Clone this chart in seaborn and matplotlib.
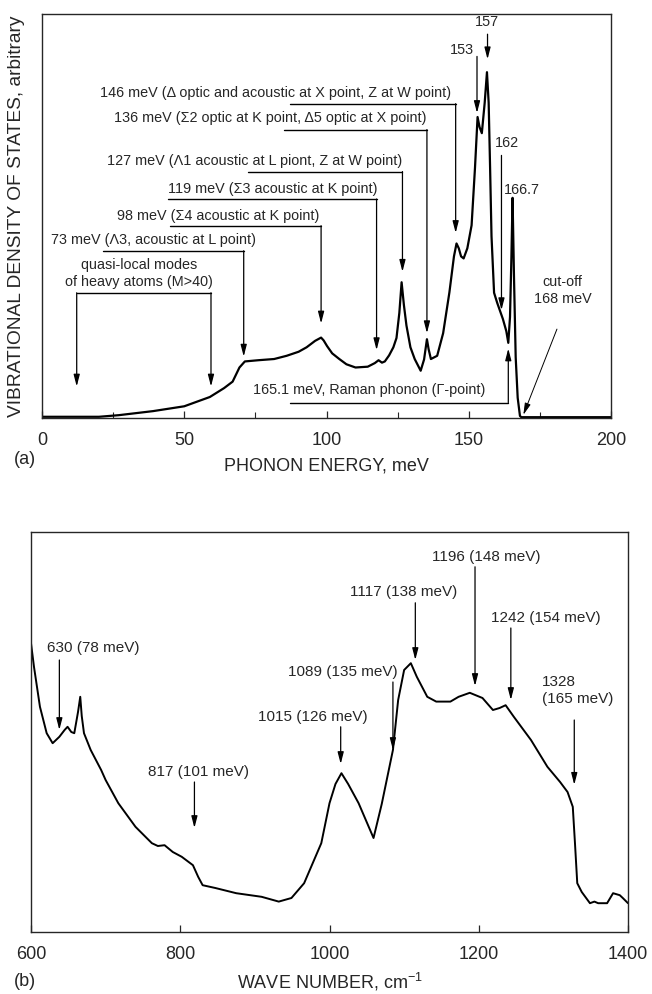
# %%
import matplotlib.pyplot as plt
import numpy as np
import pandas as pd
import seaborn as sns
from matplotlib.ticker import MultipleLocator

# %% panel (a): vibrational density of states (arbitrary units, 0-100 = axis height)
energy_mev = [0, 20, 27, 39, 50, 59, 64, 67, 69.4, 71.3, 76, 81.6, 86, 90.2, 93, 96,
              98.1, 99, 100.2, 102, 104.5, 107, 110.2, 114.5, 117, 118.3, 119.5, 120.5,
              122, 123.5, 124.6, 125.6, 126.4, 127.2, 128.1, 129.5, 131, 133.1, 134.3,
              135.3, 135.9, 136.7, 138.9, 141, 143.2, 144.8, 145.7, 146.5, 147.3, 148.2,
              149.5, 151, 152.2, 153.1, 153.8, 154.6, 155.6, 156.4, 157.0, 157.5, 158,
              158.9, 160, 161, 162, 163.2, 163.9, 164.5, 165, 165.4, 165.9, 166.5, 167.2,
              168, 168.5, 170, 180, 190, 200]
vdos = [0.3, 0.3, 0.7, 1.7, 2.9, 5.2, 7.4, 9.0, 12.5, 14.0, 14.3, 14.6, 15.4, 16.4, 17.5,
        19.1, 19.9, 19.2, 17.8, 16.0, 14.6, 13.3, 12.5, 12.7, 13.6, 14.3, 13.7, 14.0, 15.5,
        17.5, 19.8, 26.0, 33.6, 28.0, 22.9, 17.5, 14.6, 11.7, 14.5, 19.5, 17.0, 14.6, 15.4,
        21.0, 31.1, 40.0, 43.2, 42.0, 40.0, 39.5, 42.0, 47.7, 62.0, 74.5, 72.0, 70.5, 78.0,
        85.6, 78.0, 62.0, 45.0, 31.0, 28.5, 26.5, 24.5, 21.5, 18.6, 25.0, 40.0, 54.5, 35.0,
        15.0, 5.0, 0.5, 0.2, 0.2, 0.2, 0.2, 0.2]

# labels with leader lines: text, text right end, text y, line start x, peak x, line y, arrow tip y
a_labels = ["146 meV (\u0394 optic and acoustic at X point, Z at W point)",
            "136 meV (\u03a32 optic at K point, \u03945 optic at X point)",
            "127 meV (\u039b1 acoustic at L piont, Z at W point)",
            "119 meV (\u03a33 acoustic at K point)",
            "98 meV (\u03a34 acoustic at K point)",
            "73 meV (\u039b3, acoustic at L point)"]
a_text_right = [143.9, 135.3, 126.7, 118.1, 97.4, 75.2]
a_text_y = [80.5, 74.3, 63.7, 56.8, 50.1, 44.0]
a_line_x0 = [87.3, 85.2, 72.3, 44.4, 45.1, 21.5]
a_peak_x = [145.4, 135.3, 126.7, 117.6, 98.1, 70.9]
a_line_y = [77.8, 71.4, 61.0, 54.2, 47.6, 41.4]
a_tip_y = [45.8, 21.0, 36.2, 16.8, 23.4, 15.2]

# panel (b): spectrum vs wave number (arbitrary units)
wavenumber = [600, 604, 612, 621, 629, 638, 645, 649, 654, 658, 663, 666, 668, 671, 680,
              694, 700, 717, 740, 755, 762, 770, 779, 790, 802, 817, 824, 830, 847, 875,
              909, 932, 949, 966, 989, 1000, 1008, 1016, 1025, 1039, 1059, 1070, 1085,
              1092, 1100, 1109, 1117, 1131, 1143, 1162, 1173, 1188, 1205, 1219, 1228,
              1236, 1247, 1270, 1292, 1309, 1319, 1326, 1329, 1332, 1338, 1349, 1355,
              1360, 1372, 1380, 1389, 1393, 1400]
signal = [72.2, 66.3, 56.3, 49.7, 47.2, 48.8, 50.5, 51.3, 50.0, 49.7, 55.0, 58.8, 54.0,
          49.7, 45.5, 40.5, 38.0, 32.2, 26.3, 23.5, 22.2, 21.5, 21.7, 20.0, 18.8, 16.7,
          13.8, 11.7, 11.0, 9.7, 8.8, 7.6, 8.5, 12.2, 22.2, 32.2, 37.0, 39.7, 37.0, 32.2,
          23.5, 32.0, 45.5, 58.0, 65.5, 67.2, 63.8, 58.8, 57.6, 57.6, 58.8, 59.8, 58.5,
          55.5, 56.0, 56.7, 53.8, 48.0, 41.3, 37.5, 35.0, 31.3, 22.0, 12.2, 10.0, 7.2,
          7.6, 7.2, 7.2, 9.7, 9.2, 8.5, 7.2]

b_labels = ["630 (78 meV)", "817 (101 meV)", "1015 (126 meV)", "1089 (135 meV)",
            "1117 (138 meV)", "1196 (148 meV)", "1242 (154 meV)", "1328\n(165 meV)"]
b_text_x = [683, 824, 978, 1018, 1099, 1210, 1290, 1285]
b_text_y = [71.0, 40.0, 53.8, 65.0, 85.0, 93.8, 78.5, 60.3]
b_arrow_x = [638, 819, 1015, 1085, 1115, 1195, 1243, 1328]
b_arrow_top = [68.0, 37.5, 51.3, 62.5, 82.3, 91.3, 76.0, 53.0]
b_arrow_tip = [50.5, 26.0, 42.0, 45.5, 68.0, 61.5, 58.0, 36.8]

# %%
sns.set_style("ticks")
plt.rcParams["font.family"] = ["Liberation Sans", "DejaVu Sans"]
plt.rcParams["xtick.direction"] = "in"
plt.rcParams["ytick.direction"] = "in"

fig = plt.figure(figsize=(6.52, 9.94), dpi=100)
W, H = 652, 994
ax1 = fig.add_axes([42 / W, 1 - 418 / H, (611 - 42) / W, (418 - 14) / H])
ax2 = fig.add_axes([31 / W, 1 - 932 / H, (628 - 31) / W, (932 - 532) / H])

arrow = dict(arrowstyle="-|>,head_length=0.7,head_width=0.18", color="k", lw=0.9,
             shrinkA=0, shrinkB=0)
fs = 10.4

# %% panel (a)
df_a = pd.DataFrame({"energy": energy_mev, "vdos": vdos})
sns.lineplot(data=df_a, x="energy", y="vdos", ax=ax1, color="k", lw=1.6)
ax1.set_xlim(0, 200)
ax1.set_ylim(0, 100)
ax1.set_xticks([0, 50, 100, 150, 200])
ax1.xaxis.set_minor_locator(MultipleLocator(25))
ax1.set_yticks([])
ax1.tick_params(axis="x", which="major", labelsize=13, length=5, width=0.9, pad=10)
ax1.tick_params(axis="x", which="minor", length=4, width=0.8)
ax1.set_xlabel("PHONON ENERGY, meV", fontsize=13, labelpad=6)
ax1.set_ylabel("VIBRATIONAL DENSITY OF STATES, arbitrary", fontsize=13.8, labelpad=12)
fig.text(14 / W, 1 - 460 / H, "(a)", fontsize=13, va="center")

for lab, tx, ty, x0, xp, ly, tip in zip(a_labels, a_text_right, a_text_y, a_line_x0,
                                         a_peak_x, a_line_y, a_tip_y):
    ax1.text(tx, ty, lab, fontsize=fs, ha="right", va="center")
    ax1.plot([x0, xp], [ly, ly], color="k", lw=1.0)
    ax1.annotate("", xy=(xp, tip), xytext=(xp, ly), arrowprops=arrow)

# quasi-local modes bracket
ax1.text(34, 35.8, "quasi-local modes\nof heavy atoms (M>40)", fontsize=fs,
         ha="center", va="center", linespacing=1.25)
ax1.plot([12.2, 59.4], [31.0, 31.0], color="k", lw=1.0)
for xq in [12.2, 59.4]:
    ax1.annotate("", xy=(xq, 7.8), xytext=(xq, 31.0), arrowprops=arrow)

# Raman phonon, arrow from below
ax1.text(156, 6.9, "165.1 meV, Raman phonon (\u0393-point)", fontsize=fs,
         ha="right", va="center")
ax1.plot([87.3, 163.9], [3.8, 3.8], color="k", lw=1.0)
ax1.annotate("", xy=(163.9, 17.2), xytext=(163.9, 3.8), arrowprops=arrow)

# peak labels near the top
ax1.text(156.3, 98.0, "157", fontsize=fs, ha="center", va="center")
ax1.annotate("", xy=(156.6, 88.8), xytext=(156.6, 95.0), arrowprops=arrow)
ax1.text(151.8, 91.0, "153", fontsize=fs, ha="right", va="center")
ax1.annotate("", xy=(152.9, 75.5), xytext=(152.9, 89.5), arrowprops=arrow)
ax1.text(159.2, 68.0, "162", fontsize=fs, ha="left", va="center")
ax1.annotate("", xy=(161.5, 26.7), xytext=(161.5, 65.0), arrowprops=arrow)
ax1.text(162.5, 56.5, "166.7", fontsize=fs, ha="left", va="center")
ax1.text(183, 31.5, "cut-off\n168 meV", fontsize=fs, ha="center", va="center",
         linespacing=1.25)
ax1.annotate("", xy=(169.2, 0.8), xytext=(181.0, 22.0),
             arrowprops=dict(arrow, lw=0.7))

# %% panel (b)
df_b = pd.DataFrame({"wavenumber": wavenumber, "signal": signal})
sns.lineplot(data=df_b, x="wavenumber", y="signal", ax=ax2, color="k", lw=1.4)
ax2.set_xlim(600, 1400)
ax2.set_ylim(0, 100)
ax2.set_xticks([600, 800, 1000, 1200, 1400])
ax2.set_yticks([])
ax2.tick_params(axis="x", labelsize=13, length=5, width=0.9, pad=10)
ax2.set_xlabel("WAVE NUMBER, cm$^{\\mathregular{-1}}$", fontsize=13, labelpad=6)
ax2.set_ylabel("")
fig.text(14 / W, 1 - 982 / H, "(b)", fontsize=13, va="center")

for lab, tx, ty, xa, top, tip in zip(b_labels, b_text_x, b_text_y, b_arrow_x,
                                      b_arrow_top, b_arrow_tip):
    ha = "left" if "\n" in lab else "center"
    ax2.text(tx, ty, lab, fontsize=fs + 0.6, ha=ha, va="center", linespacing=1.3)
    ax2.annotate("", xy=(xa, tip), xytext=(xa, top), arrowprops=arrow)

for ax in (ax1, ax2):
    for s in ax.spines.values():
        s.set_linewidth(1.0)

fig.savefig("out.png", dpi=100)
